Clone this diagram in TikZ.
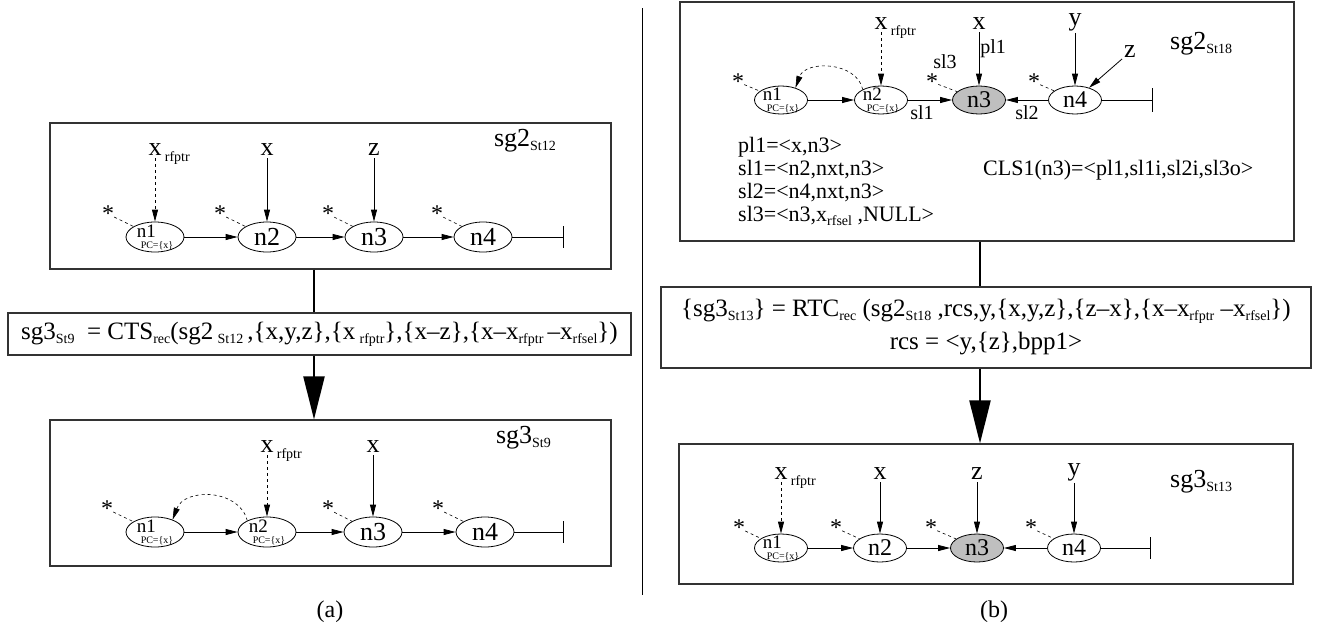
\documentclass[tikz,border=0pt]{standalone}
\usepackage{fontspec}
\setmainfont{Liberation Serif}
\usetikzlibrary{shapes.geometric,arrows.meta,positioning}
\newcommand{\lowtxt}[1]{\raisebox{-4pt}{\fontsize{14}{14}\selectfont #1}}

\begin{document}
\begin{tikzpicture}[x=1pt,y=1pt,yscale=-1,
  frame/.style={draw={rgb, 255:red, 51; green, 51; blue, 51}, line width=1.2pt, inner sep=0pt},
  nd/.style={draw, ellipse, minimum width=58pt, minimum height=30pt, inner sep=0pt, line width=0.8pt, font=\fontsize{26}{26}\selectfont},
  ndr/.style={nd, minimum width=53pt, minimum height=28pt, font=\fontsize{24}{24}\selectfont},
  hot/.style={fill={rgb, 255:red, 191; green, 191; blue, 191}},
  pctxt/.style={align=left, inner sep=0pt, font=\fontsize{19}{11}\selectfont},
  lbl/.style={inner sep=2pt, font=\fontsize{26}{26}\selectfont},
  sublbl/.style={inner sep=0pt, font=\fontsize{14}{14}\selectfont},
  starlbl/.style={inner sep=0pt, font=\fontsize{24}{24}\selectfont},
  elbl/.style={inner sep=1pt, font=\fontsize{20}{20}\selectfont},
  txt/.style={anchor=west, inner sep=0pt, font=\fontsize{22}{22}\selectfont},
  eqn/.style={frame, align=center, font=\fontsize{25}{33}\selectfont},
  capt/.style={font=\fontsize{24}{24}\selectfont},
  arr/.style={line width=0.8pt, -{Triangle[length=12pt,width=6pt]}},
  stub/.style={line width=0.6pt, dash pattern=on 3pt off 3pt},
  link/.style={line width=2.2pt},
  bigarr/.style={line width=2.2pt, -{Triangle[length=43pt,width=21pt]}}]
\useasboundingbox (0,0) rectangle (1329,632);

%Straight Lines: panel divider
\draw [line width=1pt] (642,8) -- (642,595) ;

%%%%%%%%%%%%%%%% (a) %%%%%%%%%%%%%%%%
%Shape: Rectangle
\node [frame, minimum width=561pt, minimum height=146pt] (ga) at (330.5,196) {};
\node [lbl, anchor=east] (ga-name) at (558,141) {sg2\lowtxt{St12}};
%Shape: Ellipse
\node [nd] (a1) at (155,237) {};
\node [pctxt] (a1t) at (a1) {n1\\\hspace*{4pt}{\fontsize{10}{11}\selectfont PC=\{x\}}};
\node [nd] (a2) at (267,237) {n2};
\node [nd] (a3) at (374,237) {n3};
\node [nd] (a4) at (483,237) {n4};
\coordinate (aend) at (563,237);
% Text Node
\node [starlbl] (a1s) at (108,214) {*};
\node [starlbl] (a2s) at (220,214) {*};
\node [starlbl] (a3s) at (328,214) {*};
\node [starlbl] (a4s) at (437,214) {*};
\node [lbl] (a1x) at (155,150) {x};
\node [sublbl, right=1pt of a1x.south east] (a1xs) {rfptr};
\node [lbl] (a2x) at (267,150) {x};
\node [lbl] (a3x) at (374,150) {z};
%Straight Lines
\draw [stub] (a1s) -- (a1) ;
\draw [stub] (a2s) -- (a2) ;
\draw [stub] (a3s) -- (a3) ;
\draw [stub] (a4s) -- (a4) ;
\draw [arr, dashed] (a1x) -- (a1) ;
\draw [arr] (a2x) -- (a2) ;
\draw [arr] (a3x) -- (a3) ;
\draw [arr] (a1) -- (a2) ;
\draw [arr] (a2) -- (a3) ;
\draw [arr] (a3) -- (a4) ;
\draw [line width=0.8pt] (a4) -- (aend) ;
\draw [line width=0.8pt] (aend) ++(0,-11) -- ++(0,22) ;

% Text Node
\node [eqn, minimum width=623pt, minimum height=42pt] (cts) at (319.5,334) {sg3\lowtxt{St9}\ \ = CTS\lowtxt{rec}(sg2\,\lowtxt{St12}\,,\{x,y,z\},\{x\,\lowtxt{rfptr}\},\{x--z\},\{x--x\lowtxt{rfptr}\,--x\lowtxt{rfsel}\})};

%Shape: Rectangle
\node [frame, minimum width=561pt, minimum height=146pt] (gb) at (330.5,493) {};
\node [lbl, anchor=east] (gb-name) at (553,438) {sg3\lowtxt{St9}};
%Shape: Ellipse
\node [nd] (b1) at (155,532) {};
\node [pctxt] (b1t) at (b1) {n1\\\hspace*{4pt}{\fontsize{10}{11}\selectfont PC=\{x\}}};
\node [nd] (b2) at (267,532) {};
\node [pctxt] (b2t) at (b2) {n2\\\hspace*{4pt}{\fontsize{10}{11}\selectfont PC=\{x\}}};
\node [nd] (b3) at (373,532) {n3};
\node [nd] (b4) at (485,532) {n4};
\coordinate (bend) at (563,532);
% Text Node
\node [starlbl] (b1s) at (107,509) {*};
\node [starlbl] (b3s) at (328,509) {*};
\node [starlbl] (b4s) at (438,509) {*};
\node [lbl] (b2x) at (267,447) {x};
\node [sublbl, right=1pt of b2x.south east] (b2xs) {rfptr};
\node [lbl] (b3x) at (373,447) {x};
%Straight Lines
\draw [stub] (b1s) -- (b1) ;
\draw [stub] (b3s) -- (b3) ;
\draw [stub] (b4s) -- (b4) ;
\draw [arr, dashed] (b2x) -- (b2) ;
\draw [arr] (b3x) -- (b3) ;
\draw [arr] (b1) -- (b2) ;
\draw [arr] (b2) -- (b3) ;
\draw [arr] (b3) -- (b4) ;
\draw [line width=0.8pt] (b4) -- (bend) ;
\draw [line width=0.8pt] (bend) ++(0,-11) -- ++(0,22) ;
%Curve Lines
\draw [arr, stub] (b2.150) .. controls +(-8,-32) and +(12,-32) .. (b1.35) ;

% links between the frames
\coordinate (la) at (314,0);
\draw [link] (ga.south -| la) -- (cts.north -| la) ;
\draw [bigarr] (cts.south -| la) -- (gb.north -| la) ;

\node [capt] (capa) at (330,612) {(a)};

%%%%%%%%%%%%%%%% (b) %%%%%%%%%%%%%%%%
%Shape: Rectangle
\node [frame, minimum width=614pt, minimum height=239pt] (gc) at (987,121.5) {};
\node [lbl, anchor=west] (gc-name) at (1168,44) {sg2\lowtxt{St18}};
%Shape: Ellipse
\node [ndr] (c1) at (781,100) {};
\node [pctxt] (c1t) at (c1) {n1\\\hspace*{4pt}{\fontsize{10}{11}\selectfont PC=\{x\}}};
\node [ndr] (c2) at (881,100) {};
\node [pctxt] (c2t) at (c2) {n2\\\hspace*{4pt}{\fontsize{10}{11}\selectfont PC=\{x\}}};
\node [ndr, hot] (c3) at (979,100) {n3};
\node [ndr] (c4) at (1075,100) {n4};
\coordinate (cend) at (1152,100);
% Text Node
\node [starlbl] (c1s) at (738,82) {*};
\node [starlbl] (c3s) at (932,82) {*};
\node [starlbl] (c4s) at (1034,82) {*};
\node [lbl] (c2x) at (881,24) {x};
\node [sublbl, right=1pt of c2x.south east] (c2xs) {rfptr};
\node [lbl] (c3x) at (979,24) {x};
\node [lbl] (c4y) at (1075,22) {y};
\node [lbl] (c4z) at (1130,52) {z};
\node [elbl] (sl3) at (945,62) {sl3};
%Straight Lines
\draw [stub] (c1s) -- (c1) ;
\draw [stub] (c3s) -- (c3) ;
\draw [stub] (c4s) -- (c4) ;
\draw [arr, dashed] (c2x) -- (c2) ;
\draw [arr] (c3x) -- node [elbl, right, pos=0.3] (pl1) {pl1} (c3) ;
\draw [arr] (c4y) -- (c4) ;
\draw [arr] (c4z) -- (c4) ;
\draw [arr] (c1) -- (c2) ;
\draw [arr] (c2) -- node [elbl, below=4pt, pos=0.32] (sl1) {sl1} (c3) ;
\draw [arr] (c4) -- node [elbl, below=4pt, pos=0.5] (sl2) {sl2} (c3) ;
\draw [line width=0.8pt] (c4) -- (cend) ;
\draw [line width=0.8pt] (cend) ++(0,-12) -- ++(0,24) ;
%Curve Lines
\draw [arr, stub] (c2.150) .. controls +(-6,-28) and +(10,-28) .. (c1.40) ;
% Text Node
\node [txt] (pl1def) at (738,147) {pl1=<x,n3>};
\node [txt] (sl1def) at (738,170) {sl1=<n2,nxt,n3>};
\node [txt] (sl2def) at (738,193) {sl2=<n4,nxt,n3>};
\node [txt] (sl3def) at (738,216) {sl3=<n3,x\lowtxt{rfsel} ,NULL>};
\node [txt] (cls) at (983,170) {CLS1(n3)=<pl1,sl1i,sl2i,sl3o>};

% Text Node
\node [eqn, minimum width=650pt, minimum height=81pt] (rtc) at (986,327.5) {\{sg3\lowtxt{St13}\} = RTC\lowtxt{rec} (sg2\lowtxt{St18} ,rcs,y,\{x,y,z\},\{z--x\},\{x--x\lowtxt{rfptr} --x\lowtxt{rfsel}\})\\rcs = <y,\{z\},bpp1>};

%Shape: Rectangle
\node [frame, minimum width=614pt, minimum height=140pt] (gd) at (986,514) {};
\node [lbl, anchor=west] (gd-name) at (1168,482) {sg3\lowtxt{St13}};
%Shape: Ellipse
\node [ndr] (d1) at (781,548) {};
\node [pctxt] (d1t) at (d1) {n1\\\hspace*{4pt}{\fontsize{10}{11}\selectfont PC=\{x\}}};
\node [ndr] (d2) at (880,548) {n2};
\node [ndr, hot] (d3) at (977,548) {n3};
\node [ndr] (d4) at (1074,548) {n4};
\coordinate (dend) at (1150,548);
% Text Node
\node [starlbl] (d1s) at (739,528) {*};
\node [starlbl] (d2s) at (836,528) {*};
\node [starlbl] (d3s) at (931,528) {*};
\node [starlbl] (d4s) at (1031,528) {*};
\node [lbl] (d1x) at (781,474) {x};
\node [sublbl, right=1pt of d1x.south east] (d1xs) {rfptr};
\node [lbl] (d2x) at (880,474) {x};
\node [lbl] (d3x) at (977,474) {z};
\node [lbl] (d4x) at (1074,472) {y};
%Straight Lines
\draw [stub] (d1s) -- (d1) ;
\draw [stub] (d2s) -- (d2) ;
\draw [stub] (d3s) -- (d3) ;
\draw [stub] (d4s) -- (d4) ;
\draw [arr, dashed] (d1x) -- (d1) ;
\draw [arr] (d2x) -- (d2) ;
\draw [arr] (d3x) -- (d3) ;
\draw [arr] (d4x) -- (d4) ;
\draw [arr] (d1) -- (d2) ;
\draw [arr] (d2) -- (d3) ;
\draw [arr] (d4) -- (d3) ;
\draw [line width=0.8pt] (d4) -- (dend) ;
\draw [line width=0.8pt] (dend) ++(0,-11) -- ++(0,22) ;

% links between the frames
\coordinate (lb) at (980,0);
\draw [link] (gc.south -| lb) -- (rtc.north -| lb) ;
\draw [bigarr] (rtc.south -| lb) -- (gd.north -| lb) ;

\node [capt] (capb) at (994,612) {(b)};

\end{tikzpicture}
\end{document}
